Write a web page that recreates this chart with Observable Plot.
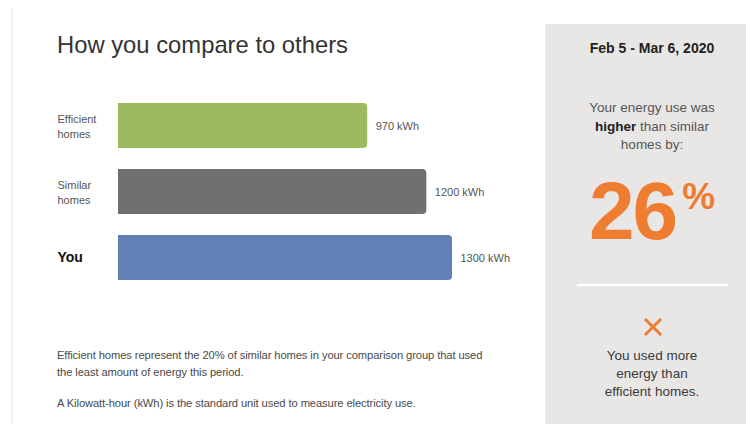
<!DOCTYPE html>
<html>
<head>
<meta charset="utf-8">
<script src="https://cdn.jsdelivr.net/npm/d3@7"></script>
<script src="https://cdn.jsdelivr.net/npm/@observablehq/plot@0.6"></script>
<style>
  html, body { margin: 0; padding: 0; background: #fff; }
  body { width: 746px; height: 424px; position: relative; overflow: hidden;
         font-family: "Liberation Sans", Arial, Helvetica, sans-serif; }
  .abs { position: absolute; }
  #border { left: 11px; top: 9px; width: 2px; height: 415px; background: #f0f0f0; }
  #title { left: 57px; top: 33px; font-size: 23.8px; line-height: 1; color: #333; white-space: nowrap; }
  #chart { left: 0; top: 85px; }
  .note { left: 57px; font-size: 11.2px; line-height: 17px; color: #4a4a4a; white-space: nowrap; letter-spacing: -0.1px; }
  #panel { left: 545px; top: 24px; width: 214px; height: 400px; background: #e8e7e6; }
  #panel .c { position: absolute; left: 0; width: 100%; text-align: center; white-space: nowrap; }
  #date { top: 15px; font-size: 14px; line-height: 18px; font-weight: bold; color: #222; }
  #lead { top: 75px; font-size: 13.5px; line-height: 18.5px; color: #555; }
  #lead b { color: #222; }
  #pct { top: 132px; font-size: 82px; line-height: 82px; font-weight: bold; color: #ef7d31; letter-spacing: -2px; }
  #pct span { font-size: 37px; vertical-align: 30px; margin-left: 6px; letter-spacing: 0; }
  #divider { left: 32px; top: 260px; width: 151px; height: 2px; background: #fff; }
  #xmark { left: 97px; top: 293px; }
  #verdict { top: 323px; font-size: 13.5px; line-height: 18px; color: #3a3a3a; }
</style>
</head>
<body>
<div id="border" class="abs"></div>
<div id="title" class="abs"></div>
<div id="chart" class="abs"></div>
<div id="note1" class="abs note" style="top:347px"></div>
<div id="note2" class="abs note" style="top:395px"></div>
<div id="panel" class="abs">
  <div id="date" class="c"></div>
  <div id="lead" class="c"></div>
  <div id="pct" class="c"></div>
  <div id="divider" class="abs"></div>
  <svg id="xmark" class="abs" width="22" height="20" viewBox="0 0 22 20">
    <line x1="3" y1="2" x2="19" y2="18" stroke="#ef7d31" stroke-width="3" stroke-linecap="butt"/>
    <line x1="19" y1="2" x2="3" y2="18" stroke="#ef7d31" stroke-width="3" stroke-linecap="butt"/>
  </svg>
  <div id="verdict" class="c"></div>
</div>
<script>
// ---- data ----
const categories = ["Efficient\nhomes", "Similar\nhomes", "You"];
const values = [970, 1200, 1300];
const unit = "kWh";
const highlight = "You";
const titleText = "How you compare to others";
const periodText = "Feb 5 - Mar 6, 2020";
const leadLines = ["Your energy use was", "<b>higher</b> than similar", "homes by:"];
const percentValue = 26;
const verdictLines = ["You used more", "energy than", "efficient homes."];
const noteLines = ["Efficient homes represent the 20% of similar homes in your comparison group that used",
                   "the least amount of energy this period."];
const note2Text = "A Kilowatt-hour (kWh) is the standard unit used to measure electricity use.";
const palette = ["#9cba5f", "#707070", "#6181b6"];

const data = categories.map((c, i) => ({cat: c, value: values[i]}));

document.getElementById("title").textContent = titleText;
document.getElementById("date").textContent = periodText;
document.getElementById("lead").innerHTML = leadLines.join("<br>");
document.getElementById("pct").innerHTML = `${percentValue}<span>%</span>`;
document.getElementById("verdict").innerHTML = verdictLines.join("<br>");
document.getElementById("note1").innerHTML = noteLines.join("<br>");
document.getElementById("note2").textContent = note2Text;

const chart = Plot.plot({
  width: 540,
  height: 215,
  marginLeft: 118,
  marginRight: 88,
  marginTop: 17,
  marginBottom: 18,
  style: {background: "transparent", fontFamily: "Liberation Sans, Arial, sans-serif"},
  x: {domain: [0, d3.max(values)], axis: null},
  y: {domain: categories, axis: null, paddingInner: 0.313, paddingOuter: 0},
  color: {domain: categories, range: palette},
  marks: [
    Plot.barX(data, {y: "cat", x: "value", fill: "cat", rx: 4}),
    Plot.barX(data, {y: "cat", x1: 0, x2: d => d.value / 2, fill: "cat"}),
    Plot.text(data.filter(d => d.cat !== highlight), {
      y: "cat", text: "cat", frameAnchor: "left", dx: -61, textAnchor: "start",
      fontSize: 11, fill: "#555", lineHeight: 1.35
    }),
    Plot.text(data.filter(d => d.cat === highlight), {
      y: "cat", text: "cat", frameAnchor: "left", dx: -61, textAnchor: "start",
      fontSize: 14, fontWeight: "bold", fill: "#111"
    }),
    Plot.text(data, {
      y: "cat", x: "value", text: d => `${d.value} ${unit}`, dx: 8, textAnchor: "start",
      fontSize: 11, fill: "#555"
    })
  ]
});
document.getElementById("chart").appendChild(chart);
</script>
</body>
</html>
